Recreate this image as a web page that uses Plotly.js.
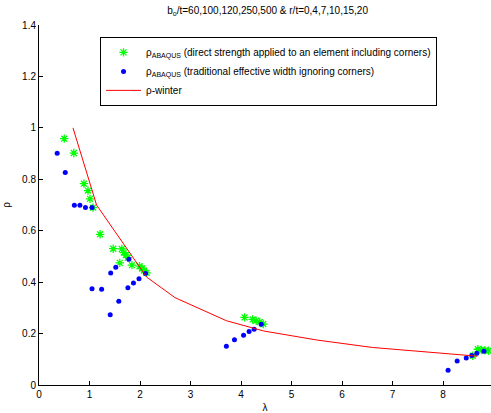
<!DOCTYPE html>
<html>
<head>
<meta charset="utf-8">
<script src="https://cdn.plot.ly/plotly-3.0.1.min.js"></script>
<style>html,body{margin:0;padding:0;background:#fff;}#chart{width:491px;height:413px;}</style>
</head>
<body>
<div id="chart"></div>
<script>
// Direct strength (element including corners)
const lambdaDirect = [0.50,0.69,0.89,0.97,1.01,1.07,1.21,1.47,1.60,1.64,1.68,1.72,1.76,1.84,1.99,2.04,2.08,2.13,4.07,4.23,4.30,4.37,4.44,8.59,8.69,8.76,8.83,8.90];
const rhoDirect    = [0.958,0.902,0.783,0.756,0.724,0.690,0.586,0.530,0.475,0.529,0.515,0.505,0.495,0.466,0.462,0.453,0.445,0.436,0.263,0.255,0.250,0.245,0.237,0.114,0.139,0.136,0.135,0.133];
// Traditional effective width ignoring corners
const lambdaTrad = [0.36,0.52,0.70,0.81,0.92,1.05,1.05,1.24,1.41,1.42,1.52,1.58,1.76,1.78,1.87,1.98,2.11,3.71,3.87,4.05,4.16,4.26,4.40,8.10,8.28,8.46,8.57,8.67,8.81];
const rhoTrad    = [0.901,0.826,0.699,0.699,0.690,0.690,0.374,0.372,0.273,0.436,0.458,0.326,0.378,0.489,0.397,0.413,0.434,0.151,0.176,0.193,0.208,0.217,0.236,0.057,0.093,0.105,0.115,0.123,0.131];
// Winter curve
const lambdaWinter = [0.673,1.14,2.13,2.69,3.71,4.45,5.5,6.6,8.68];
const rhoWinter    = [1.0,0.70,0.42,0.34,0.25,0.21,0.175,0.146,0.112];

const titleText = 'b<sub>o</sub>/t=60,100,120,250,500 &amp; r/t=0,4,7,10,15,20';
const font = {family: '"Liberation Sans", Arial, Helvetica, sans-serif', size: 10, color: '#000'};

const traces = [
  {x: lambdaDirect, y: rhoDirect, type: 'scatter', mode: 'markers',
   name: '\u03C1<sub>ABAQUS</sub> (direct strength applied to an element including corners)',
   marker: {symbol: 'asterisk-open', size: 7, color: '#00ff00', line: {color: '#00ff00', width: 1.3}}},
  {x: lambdaTrad, y: rhoTrad, type: 'scatter', mode: 'markers',
   name: '\u03C1<sub>ABAQUS</sub> (traditional effective width ignoring corners)',
   marker: {symbol: 'circle', size: 5, color: '#0000ff'}},
  {x: lambdaWinter, y: rhoWinter, type: 'scatter', mode: 'lines',
   name: '\u03C1-winter', line: {color: '#ff0000', width: 1}}
];

const layout = {
  width: 491, height: 413,
  margin: {l: 39, r: 0, t: 25, b: 28},
  paper_bgcolor: '#fff', plot_bgcolor: '#fff',
  font: font,
  title: {text: titleText, font: {family: font.family, size: 10, color: '#000'}, x: 0.545, xanchor: 'center', y: 0.975, yanchor: 'middle'},
  showlegend: true,
  legend: {x: 0.135, y: 0.967, xanchor: 'left', yanchor: 'top', bgcolor: '#fff', bordercolor: '#000', borderwidth: 1,
           font: {family: font.family, size: 10, color: '#000'}, itemwidth: 35, tracegroupgap: 0},
  xaxis: {range: [0, 8.95], tickvals: [0,1,2,3,4,5,6,7,8], ticks: 'inside', ticklen: 4, tickcolor: '#000',
          showline: true, linecolor: '#000', linewidth: 1, showgrid: false, zeroline: false, mirror: false,
          title: {text: '\u03BB', font: {family: font.family, size: 10, color: '#000'}, standoff: 4}},
  yaxis: {range: [0, 1.4], tickvals: [0,0.2,0.4,0.6,0.8,1,1.2,1.4], ticks: 'inside', ticklen: 4, tickcolor: '#000',
          showline: true, linecolor: '#000', linewidth: 1, showgrid: false, zeroline: false,
          title: {text: '\u03C1', font: {family: font.family, size: 10, color: '#000'}, standoff: 9}}
};

Plotly.newPlot('chart', traces, layout, {staticPlot: true, displayModeBar: false});
</script>
</body>
</html>
